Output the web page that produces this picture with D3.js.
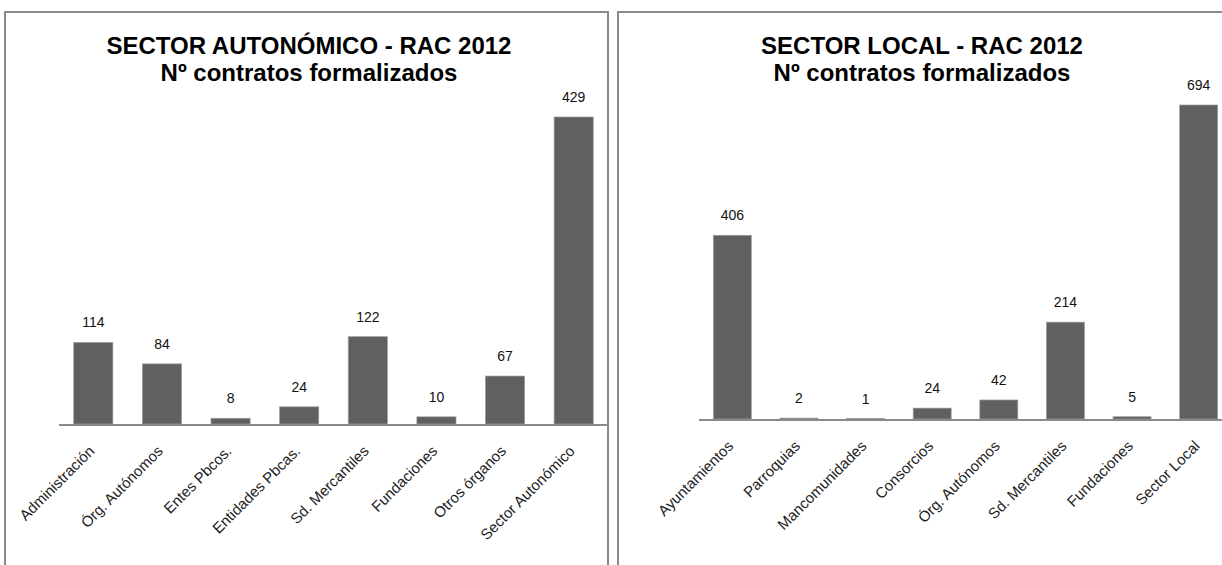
<!DOCTYPE html>
<html>
<head>
<meta charset="utf-8">
<script src="https://cdn.jsdelivr.net/npm/d3@7"></script>
<style>
  body { margin: 0; background: white; }
  svg { display: block; }
  text { font-family: "Liberation Sans", Arial, sans-serif; }
</style>
</head>
<body>
<div id="wrapper"></div>
<script>
// data
var autoCategories = ["Administración", "Órg. Autónomos", "Entes Pbcos.", "Entidades Pbcas.",
    "Sd. Mercantiles", "Fundaciones", "Otros órganos", "Sector Autonómico"];
var autoValues = [114, 84, 8, 24, 122, 10, 67, 429];

var localCategories = ["Ayuntamientos", "Parroquias", "Mancomunidades", "Consorcios",
    "Órg. Autónomos", "Sd. Mercantiles", "Fundaciones", "Sector Local"];
var localValues = [406, 2, 1, 24, 42, 214, 5, 694];

var autoTitle = ["SECTOR AUTONÓMICO - RAC 2012", "Nº contratos formalizados"];
var localTitle = ["SECTOR LOCAL - RAC 2012", "Nº contratos formalizados"];

const svg = d3.select("#wrapper")
    .append("svg")
    .attr("width", 1222)
    .attr("height", 565);

function drawPanel(opt){
    // panel frame (bottom runs off the page)
    svg.append("rect")
        .attr("x", opt.box[0])
        .attr("y", opt.box[1])
        .attr("width", opt.box[2])
        .attr("height", 700)
        .attr("fill", "white")
        .attr("stroke", "#8a8a8a")
        .attr("stroke-width", 2);

    // title
    svg.append("g")
        .selectAll("text")
        .data(opt.title)
        .enter()
        .append("text")
        .attr("x", opt.titleX)
        .attr("y", (d,i)=>54 + i*27)
        .attr("text-anchor", "middle")
        .attr("font-size", 24)
        .attr("font-weight", "bold")
        .attr("fill", "black")
        .text(d=>d);

    var x = d3.scaleBand()
        .domain(opt.cats)
        .range(opt.xRange)
        .paddingInner(0.43)
        .paddingOuter(0.215);

    var y = d3.scaleLinear()
        .domain([0, opt.yMax])
        .range([opt.base, opt.top]);

    var data = opt.cats.map((c,i)=>({cat: c, v: opt.vals[i]}));

    var g = svg.append("g");

    g.selectAll("rect.bar")
        .data(data)
        .enter()
        .append("rect")
        .attr("class", "bar")
        .attr("x", d=>x(d.cat))
        .attr("y", d=>y(d.v))
        .attr("width", x.bandwidth())
        .attr("height", d=>opt.base - y(d.v))
        .attr("fill", "#606060")
        .attr("stroke", "#9a9a9a")
        .attr("stroke-width", 0.7);

    // baseline
    g.append("line")
        .attr("x1", opt.xRange[0])
        .attr("x2", opt.lineEnd)
        .attr("y1", opt.base + 1)
        .attr("y2", opt.base + 1)
        .attr("stroke", "#8a8a8a")
        .attr("stroke-width", 2);

    // value labels
    g.selectAll("text.val")
        .data(data)
        .enter()
        .append("text")
        .attr("class", "val")
        .attr("x", d=>x(d.cat) + x.bandwidth()/2)
        .attr("y", d=>y(d.v) - 15)
        .attr("text-anchor", "middle")
        .attr("font-size", 14)
        .attr("fill", "#111")
        .text(d=>d.v);

    // category labels, rotated
    g.selectAll("text.cat")
        .data(data)
        .enter()
        .append("text")
        .attr("class", "cat")
        .attr("text-anchor", "end")
        .attr("font-size", 15)
        .attr("fill", "#222")
        .attr("transform", d=>"translate(" + (x(d.cat) + x.bandwidth()/2 + 2) + "," + (opt.base + 28) + ") rotate(-45)")
        .text(d=>d.cat);
}

drawPanel({
    box: [5, 12, 603],
    title: autoTitle,
    titleX: 309,
    cats: autoCategories,
    vals: autoValues,
    xRange: [59, 608],
    lineEnd: 608,
    base: 424,
    top: 117,
    yMax: 429
});

drawPanel({
    box: [618, 12, 640],
    title: localTitle,
    titleX: 922,
    cats: localCategories,
    vals: localValues,
    xRange: [699, 1232],
    lineEnd: 1222,
    base: 419,
    top: 105,
    yMax: 694
});
</script>
</body>
</html>
